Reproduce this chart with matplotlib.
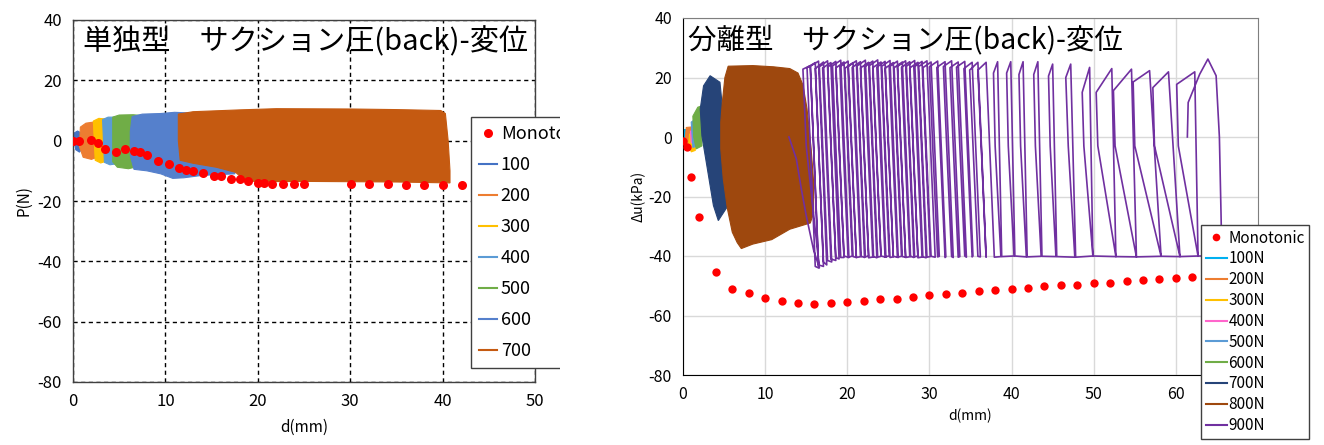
import matplotlib.pyplot as plt
from matplotlib.lines import Line2D
from matplotlib.patches import Rectangle

plt.rcParams['font.family'] = ['Noto Sans CJK JP', 'DejaVu Sans']
plt.rcParams['axes.unicode_minus'] = False

# ---------------- left panel: 単独型 ----------------
mono_d_left = [0.0, 0.6, 2.0, 2.7, 3.5, 4.6, 5.6, 6.6, 7.3, 8.0, 9.2, 10.4, 11.5, 12.2,
               13.0, 14.1, 15.3, 16.0, 17.1, 18.1, 18.9, 20.0, 20.7, 21.5, 22.7, 23.9,
               25.0, 30.1, 32.0, 34.1, 36.0, 38.0, 40.0, 42.1]
mono_p_left = [0.0, 0.0, 0.3, -0.8, -2.7, -3.8, -2.7, -3.3, -3.8, -4.9, -6.6, -7.8, -8.9,
               -9.7, -10.1, -10.8, -11.8, -11.8, -12.7, -12.7, -13.4, -14.0, -14.0, -14.2,
               -14.2, -14.2, -14.2, -14.2, -14.2, -14.2, -14.6, -14.8, -14.6, -14.6]

left_labels = ['100', '200', '300', '400', '500', '600', '700']
left_colors = ['#4472C4', '#ED7D31', '#FFC000', '#5B9BD5', '#70AD47', '#5580CC', '#C55A11']
# outline of each densely cycled band (d, P)
left_band_d = [
    [0.1, 0.5, 0.9, 1.0, 0.7, 0.3, 0.1],
    [0.8, 1.4, 2.3, 2.6, 2.6, 2.0, 1.1, 0.7],
    [2.2, 2.8, 3.5, 3.6, 3.0, 2.4],
    [3.2, 3.8, 4.8, 4.9, 4.0, 3.4],
    [4.3, 5.0, 6.5, 7.2, 7.0, 6.0, 4.8, 4.3],
    [6.4, 7.5, 9.5, 11.0, 12.5, 16.0, 17.6, 17.5, 14.0, 12.0, 10.8, 9.5, 8.0, 6.6, 6.2, 6.2],
    [11.4, 13.0, 18.0, 22.0, 30.0, 35.0, 39.8, 40.3, 40.6, 40.8, 40.8, 35.0, 25.0, 20.0,
     18.6, 17.6, 15.5, 13.0, 11.6, 11.4],
]
left_band_p = [
    [2.5, 3.2, 2.5, -2.5, -3.8, -3.0, 0.0],
    [4.5, 5.8, 6.2, 5.0, -5.5, -6.2, -5.5, -2.0],
    [6.5, 7.4, 7.2, -6.8, -7.4, -6.5],
    [7.0, 7.8, 7.8, -7.6, -8.0, -7.2],
    [7.8, 8.5, 8.6, 8.4, -8.6, -9.3, -8.8, -7.0],
    [8.0, 8.8, 9.0, 9.4, 9.2, -9.0, -10.0, -11.0, -11.5, -12.3, -12.5, -11.0, -10.0, -9.5, -5.0, 3.0],
    [8.8, 9.6, 10.2, 10.6, 10.5, 10.3, 10.0, 9.0, 0.0, -10.0, -14.0, -13.7, -13.5, -13.6,
     -13.2, -10.5, -8.8, -7.5, -6.5, 0.0],
]

# ---------------- right panel: 分離型 ----------------
mono_d_right = [0.0, 0.5, 1.0, 2.0, 4.0, 6.0, 8.0, 10.0, 12.0, 14.0, 16.0, 18.0, 20.0, 22.0,
                24.0, 26.0, 28.0, 30.0, 32.0, 34.0, 36.0, 38.0, 40.0, 42.0, 44.0, 46.0,
                48.0, 50.0, 52.0, 54.0, 56.0, 58.0, 60.0, 62.0]
mono_p_right = [-1.5, -3.2, -13.6, -26.8, -45.3, -51.0, -52.5, -54.0, -55.1, -55.7, -56.0,
                -55.7, -55.4, -55.2, -54.6, -54.3, -53.7, -53.2, -52.8, -52.5, -51.7, -51.4,
                -51.0, -50.7, -50.1, -49.9, -49.6, -49.1, -49.0, -48.5, -48.1, -47.8, -47.4, -47.2]

right_labels = ['100N', '200N', '300N', '400N', '500N', '600N', '700N', '800N', '900N']
right_colors = ['#00B0F0', '#ED7D31', '#FFC000', '#FF66CC', '#5B9BD5', '#70AD47',
                '#264478', '#9E480E', '#7030A0']
right_band_d = [
    [0.0, 0.5, 0.6, 0.1],
    [0.4, 1.1, 1.2, 0.6, 0.3],
    [0.8, 1.3, 1.5, 1.0, 0.7],
    [0.9, 1.3, 1.4, 1.0],
    [1.0, 1.5, 1.7, 1.2],
    [1.2, 1.8, 2.3, 2.3, 1.6, 1.3],
    [3.3, 4.5, 4.9, 5.1, 5.5, 4.3, 3.7, 2.9, 2.3, 2.1, 2.5],
    [5.5, 8.5, 11.0, 13.0, 14.0, 14.6, 15.1, 15.6, 15.9, 15.9, 15.5, 13.0, 10.8, 8.5, 7.1,
     6.6, 6.0, 5.4, 4.9, 4.6, 4.6, 4.8, 5.1],
]
right_band_p = [
    [2.5, 2.5, -1.0, -1.0],
    [3.2, 3.4, -2.5, -3.0, 0.0],
    [1.0, 1.5, -4.5, -5.0, -2.0],
    [2.0, 2.0, -2.0, -2.0],
    [5.0, 6.0, -3.0, -3.5],
    [7.0, 10.0, 10.5, -3.0, -4.0, 0.0],
    [20.6, 18.4, 7.1, -9.6, -23.0, -28.1, -23.0, -9.6, 0.4, 9.4, 17.2],
    [23.8, 24.0, 23.6, 23.0, 21.5, 17.5, 9.5, -4.0, -15.0, -25.5, -28.9, -31.0, -34.5,
     -36.0, -37.5, -35.5, -32.0, -24.0, -14.0, -4.0, 5.0, 12.0, 20.0],
]

# 900N trace: start, one entry per cycle, end
p900_start_d = [12.9, 13.8, 14.4, 15.0, 15.9, 16.6]
p900_start_p = [0.0, -7.4, -17.4, -26.4, -38.0, -44.0]
p900_peak_d = [15.5, 16.1, 16.5, 17.1, 17.6, 18.0, 18.6, 19.2, 19.6, 20.1,
               20.7, 21.1, 21.6, 22.2, 22.6, 23.1, 23.7, 24.1, 24.6, 25.2,
               25.6, 26.1, 26.7, 27.1, 27.6, 28.2, 28.6, 29.1, 29.7, 30.2,
               31.0, 31.9, 32.7, 33.5, 34.3, 35.2, 35.9, 36.9, 38.3, 39.9,
               41.4, 43.2, 45.0, 47.2, 49.5, 52.2, 54.6, 56.8, 59.1, 62.3]
p900_peak_p = [24.0, 25.0, 25.5, 25.2, 25.6, 25.0, 25.4, 25.8, 25.2, 25.5,
               25.0, 25.6, 25.3, 25.8, 25.1, 25.5, 25.9, 25.2, 25.4, 25.7,
               25.0, 25.5, 25.2, 25.6, 25.3, 25.7, 25.1, 25.4, 25.6, 25.2,
               25.5, 25.3, 25.6, 25.2, 25.4, 25.1, 25.1, 25.1, 25.3, 25.3,
               25.3, 25.3, 24.5, 24.5, 23.4, 23.0, 22.8, 22.3, 21.9, 21.9]
# upper-left shoulder of each loop
p900_left_d = [14.6, 15.1, 15.5, 16.1, 16.6, 17.0, 17.6, 18.2, 18.6, 19.1,
               19.7, 20.1, 20.6, 21.2, 21.6, 22.1, 22.7, 23.1, 23.6, 24.2,
               24.6, 25.1, 25.7, 26.1, 26.6, 27.2, 27.6, 28.1, 28.7, 29.2,
               30.0, 30.9, 31.7, 32.5, 33.3, 34.2, 34.9, 35.9, 37.8, 39.4,
               40.9, 42.7, 44.5, 46.6, 48.6, 50.3, 52.4, 54.8, 57.2, 60.1]
p900_shoulder_p = [22.8, 23.3, 23.8, 23.0, 23.6, 23.2, 23.5, 23.9, 23.2, 23.6,
                   23.1, 23.7, 23.4, 23.9, 23.2, 23.6, 24.0, 23.3, 23.5, 23.8,
                   23.1, 23.6, 23.3, 23.7, 23.4, 23.8, 23.2, 23.5, 23.7, 23.3,
                   23.6, 23.4, 23.7, 23.3, 23.5, 23.0, 22.5, 22.5, 21.5, 21.5,
                   21.0, 21.0, 20.5, 20.0, 15.0, 15.0, 15.6, 18.5, 16.6, 17.7]
# left side crossing the kink level
p900_kink_d = [15.0, 15.5, 15.9, 16.5, 17.0, 17.4, 18.0, 18.6, 19.0, 19.5,
               20.1, 20.5, 21.0, 21.6, 22.0, 22.5, 23.1, 23.5, 24.0, 24.6,
               25.0, 25.5, 26.1, 26.5, 27.0, 27.6, 28.0, 28.5, 29.1, 29.6,
               30.4, 31.3, 32.1, 32.9, 33.7, 34.6, 35.3, 36.3, 38.0, 39.6,
               41.1, 42.9, 44.7, 46.9, 48.8, 50.5, 52.6, 55.0, 57.4, 60.3]
p900_kink_p = -3.0
# where the rising (left) and falling (right) sides meet the bottom
p900_foot_left_d = [16.6, 16.1, 16.5, 17.1, 17.6, 18.0, 18.6, 19.2, 19.6, 20.1,
                    20.7, 21.1, 21.6, 22.2, 22.6, 23.1, 23.7, 24.1, 24.6, 25.2,
                    25.6, 26.1, 26.7, 27.1, 27.6, 28.2, 28.6, 29.1, 29.7, 30.2,
                    31.0, 31.9, 32.7, 33.5, 34.3, 35.2, 35.9, 36.9, 38.7, 40.3,
                    41.8, 43.6, 45.4, 47.7, 49.9, 52.7, 55.2, 58.2, 60.5, 62.7]
p900_foot_right_d = [16.5, 17.1, 17.5, 18.1, 18.6, 19.0, 19.6, 20.2, 20.6, 21.1,
                     21.7, 22.1, 22.6, 23.2, 23.6, 24.1, 24.7, 25.1, 25.6, 26.2,
                     26.6, 27.1, 27.7, 28.1, 28.6, 29.2, 29.6, 30.1, 30.7, 31.2,
                     32.0, 32.9, 33.7, 34.5, 35.3, 36.2, 36.9, 37.9, 38.8, 40.4,
                     41.9, 43.7, 45.5, 47.8, 49.9, 52.7, 55.2, 58.2, 60.5, 62.7]
p900_bottom_p = [-44.0, -43.5, -43.0, -42.0, -41.5, -41.0, -40.5, -40.5, -40.0, -40.5,
                 -40.2, -40.5, -40.0, -40.3, -40.6, -40.1, -40.4, -40.0, -40.3, -40.5,
                 -40.1, -40.4, -40.2, -40.5, -40.0, -40.3, -40.6, -40.2, -40.4, -40.1,
                 -40.3, -40.5, -40.2, -40.4, -40.0, -40.3, -40.1, -40.4, -40.2, -40.0,
                 -40.3, -40.1, -40.2, -40.4, -40.0, -40.2, -40.3, -40.1, -40.2, -40.0]
p900_end_d = [65.6, 65.5, 65.3, 64.9, 63.9, 62.9, 61.5, 61.4]
p900_end_p = [-40.0, -26.0, 0.0, 20.6, 26.2, 21.1, 11.6, 0.0]

W, H = 1324, 445
fig = plt.figure(figsize=(W / 100, H / 100), dpi=100)

# ---------- left chart ----------
ax1 = fig.add_axes([73 / W, 1 - 382 / H, 462 / W, 362 / H])
for d, p, c in zip(left_band_d, left_band_p, left_colors):
    ax1.fill(d, p, color=c, lw=0.8, ec=c, zorder=2)
ax1.plot(mono_d_left, mono_p_left, 'o', color='#FF0000', ms=6.5, mec='none', zorder=4)

ax1.set_xlim(0, 50)
ax1.set_ylim(-80, 40)
ax1.set_xticks(range(0, 51, 10))
ax1.set_yticks(range(-80, 41, 20))
ax1.grid(True, color='black', lw=1.0, linestyle=(0, (3, 2.5)))
ax1.set_axisbelow(True)
ax1.tick_params(length=0, labelsize=12, pad=8)
for s in ax1.spines.values():
    s.set_color('#404040')
    s.set_linewidth(1.0)
ax1.set_xlabel('d(mm)', fontsize=11, labelpad=6)
ax1.set_ylabel('P(N)', fontsize=11, labelpad=4)
ax1.text(0.022, 0.94, '単独型　サクション圧(back)-変位', transform=ax1.transAxes,
         fontsize=21, va='center', ha='left', zorder=5)

h1 = [Line2D([], [], ls='none', marker='o', color='#FF0000', ms=6.5, mec='none')]
h1 += [Line2D([], [], color=c, lw=1.5) for c in left_colors]
leg1 = fig.legend(h1, ['Monotonic'] + left_labels, loc='upper left',
                  bbox_to_anchor=(471 / W, 1 - 117 / H), fontsize=13, frameon=True,
                  fancybox=False, edgecolor='#404040', framealpha=1, labelspacing=0.72,
                  handlelength=1.0, handletextpad=0.2, borderpad=0.45, borderaxespad=0)
leg1.get_frame().set_linewidth(1.0)

# the left chart image ends at x = 560 px
fig.patches.append(Rectangle((560 / W, 0), 62 / W, 1, transform=fig.transFigure,
                             facecolor='white', edgecolor='none', zorder=10))

# ---------- right chart ----------
ax2 = fig.add_axes([683 / W, 1 - 375 / H, 575 / W, 357 / H])
for d, p, c in zip(right_band_d, right_band_p, right_colors[:8]):
    ax2.fill(d, p, color=c, lw=0.8, ec=c, zorder=2)

xs = list(p900_start_d)
ys = list(p900_start_p)
for i in range(len(p900_peak_d)):
    xs += [p900_foot_left_d[i], p900_kink_d[i], p900_left_d[i], p900_peak_d[i],
           p900_foot_right_d[i]]
    ys += [p900_bottom_p[i], p900_kink_p, p900_shoulder_p[i], p900_peak_p[i],
           p900_bottom_p[i]]
xs += p900_end_d
ys += p900_end_p
ax2.plot(xs, ys, color=right_colors[8], lw=1.2, zorder=3)
ax2.plot(mono_d_right, mono_p_right, 'o', color='#FF0000', ms=6, mec='none', zorder=4)

ax2.set_xlim(0, 70)
ax2.set_ylim(-80, 40)
ax2.set_xticks(range(0, 61, 10))
ax2.set_yticks(range(-80, 41, 20))
ax2.grid(True, color='#D9D9D9', lw=1.0)
ax2.set_axisbelow(True)
ax2.tick_params(length=0, labelsize=11.5, pad=8)
ax2.spines['left'].set_color('black')
ax2.spines['bottom'].set_color('black')
ax2.spines['top'].set_color('#7F7F7F')
ax2.spines['right'].set_color('#7F7F7F')
ax2.set_xlabel('d(mm)', fontsize=10, labelpad=4)
ax2.set_ylabel('Δu(kPa)', fontsize=10, labelpad=2)
ax2.text(0.009, 0.938, '分離型　サクション圧(back)-変位', transform=ax2.transAxes,
         fontsize=20.5, va='center', ha='left', zorder=5)

h2 = [Line2D([], [], ls='none', marker='o', color='#FF0000', ms=5.5, mec='none')]
h2 += [Line2D([], [], color=c, lw=1.5) for c in right_colors]
leg2 = fig.legend(h2, ['Monotonic'] + right_labels, loc='upper left',
                  bbox_to_anchor=(1201 / W, 1 - 225 / H), fontsize=11, frameon=True,
                  fancybox=False, edgecolor='#404040', framealpha=1, labelspacing=0.25,
                  handlelength=1.4, handletextpad=0.1, borderpad=0.3, borderaxespad=0)
leg2.get_frame().set_linewidth(1.0)

fig.savefig('out.png', dpi=100)
